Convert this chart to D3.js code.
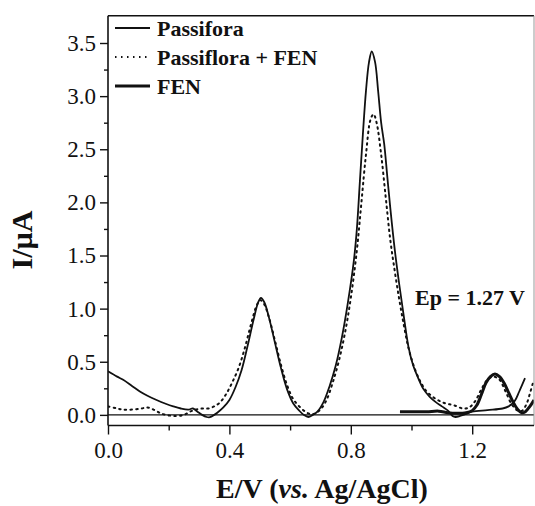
<!DOCTYPE html>
<html>
<head>
<meta charset="utf-8">
<script src="https://cdn.jsdelivr.net/npm/d3@7"></script>
<style>
  html, body { margin: 0; padding: 0; background: #fff; }
  svg { display: block; }
  text { font-family: "Liberation Serif", "Times New Roman", serif; fill: #111; }
</style>
</head>
<body>
<svg id="chart" width="535" height="506"></svg>
<script>
// Differential pulse voltammograms: potential (V vs Ag/AgCl) and current (µA)
const passiforaE = [0.00,0.03,0.05,0.08,0.105,0.13,0.16,0.19,0.215,0.24,0.265,0.28,0.295,0.31,0.325,0.336,0.35,0.36,0.38,0.40,0.42,0.44,0.46,0.48,0.495,0.504,0.515,0.53,0.55,0.57,0.59,0.61,0.63,0.645,0.66,0.675,0.69,0.71,0.73,0.75,0.77,0.79,0.81,0.82,0.83,0.84,0.85,0.86,0.869,0.88,0.89,0.90,0.91,0.92,0.93,0.945,0.96,0.975,0.99,1.005,1.02,1.04,1.06,1.08,1.10,1.12,1.135,1.145,1.16,1.18,1.20,1.25,1.30,1.32,1.34,1.355,1.374];
const passiforaI = [0.41,0.36,0.33,0.27,0.22,0.18,0.14,0.105,0.08,0.06,0.05,0.06,0.03,0.00,-0.02,-0.022,0.00,0.02,0.07,0.14,0.26,0.42,0.65,0.90,1.06,1.10,1.06,0.92,0.68,0.44,0.24,0.11,0.04,0.00,-0.02,0.00,0.03,0.12,0.27,0.46,0.72,1.05,1.45,1.75,2.20,2.65,3.05,3.32,3.42,3.32,3.05,2.75,2.55,2.25,1.95,1.55,1.22,0.92,0.64,0.47,0.36,0.24,0.17,0.12,0.08,0.04,-0.01,-0.02,-0.01,0.01,0.03,0.045,0.06,0.08,0.13,0.22,0.345];

const mixE = [0.00,0.03,0.05,0.08,0.11,0.13,0.15,0.17,0.19,0.22,0.25,0.27,0.29,0.31,0.33,0.35,0.37,0.39,0.41,0.43,0.45,0.47,0.49,0.502,0.515,0.53,0.55,0.57,0.59,0.61,0.63,0.65,0.665,0.68,0.70,0.72,0.74,0.76,0.78,0.80,0.82,0.835,0.85,0.865,0.875,0.885,0.90,0.915,0.93,0.945,0.96,0.975,0.99,1.01,1.03,1.05,1.08,1.11,1.14,1.17,1.19,1.21,1.23,1.25,1.27,1.29,1.31,1.33,1.35,1.365,1.38,1.39,1.401];
const mixI = [0.08,0.06,0.05,0.05,0.06,0.07,0.05,0.02,0.00,-0.01,0.00,0.03,0.05,0.06,0.06,0.08,0.12,0.20,0.31,0.44,0.62,0.84,1.03,1.08,1.04,0.92,0.70,0.47,0.28,0.15,0.08,0.03,0.01,0.01,0.05,0.14,0.30,0.50,0.76,1.10,1.55,2.00,2.45,2.78,2.83,2.75,2.45,2.05,1.65,1.35,1.08,0.84,0.63,0.44,0.31,0.22,0.15,0.11,0.09,0.06,0.07,0.13,0.24,0.33,0.36,0.33,0.22,0.10,0.04,0.04,0.11,0.20,0.31];

const fenE = [0.962,1.00,1.05,1.09,1.12,1.15,1.18,1.20,1.215,1.23,1.245,1.26,1.275,1.29,1.305,1.32,1.335,1.35,1.363,1.375,1.39,1.4036];
const fenI = [0.03,0.03,0.03,0.035,0.02,0.015,0.02,0.04,0.09,0.19,0.30,0.36,0.385,0.36,0.30,0.21,0.12,0.05,0.02,0.03,0.08,0.14];

const seriesNames = ["Passifora", "Passiflora + FEN", "FEN"];
const xMajorTicks = [0.0, 0.4, 0.8, 1.2];
const xMinorTicks = [0.2, 0.6, 1.0];
const yMajorTicks = [0.0, 0.5, 1.0, 1.5, 2.0, 2.5, 3.0, 3.5];
const yMinorTicks = [0.25, 0.75, 1.25, 1.75, 2.25, 2.75, 3.25];
const peakLabel = "Ep = 1.27 V";

const svg = d3.select("#chart");
const plotLeft = 108, plotRight = 534, plotTop = 15.7, plotBottom = 425.5;

const x = d3.scaleLinear().domain([0, 1.4036]).range([plotLeft, plotRight]);
const y = d3.scaleLinear().domain([-0.1, 3.757]).range([plotBottom, plotTop]);

const zip = (es, is) => es.map((e, k) => [e, is[k]]);
const line = d3.line().x(d => x(d[0])).y(d => y(d[1])).curve(d3.curveCatmullRom.alpha(0.5));

svg.append("clipPath").attr("id", "plot-clip")
  .append("rect").attr("x", plotLeft).attr("y", plotTop)
  .attr("width", plotRight - plotLeft).attr("height", plotBottom - plotTop);

const plot = svg.append("g").attr("clip-path", "url(#plot-clip)");

// zero-current baseline
plot.append("line")
  .attr("x1", plotLeft).attr("x2", plotRight).attr("y1", y(0)).attr("y2", y(0))
  .attr("stroke", "#111").attr("stroke-width", 1.4);

const styles = [
  { data: zip(mixE, mixI), width: 2, dash: "1.5,4.2", cap: "round" },
  { data: zip(passiforaE, passiforaI), width: 1.8, dash: null, cap: "butt" },
  { data: zip(fenE, fenI), width: 3, dash: null, cap: "butt" }
];
styles.forEach(s => {
  plot.append("path").datum(s.data)
    .attr("d", line)
    .attr("fill", "none")
    .attr("stroke", "#111")
    .attr("stroke-width", s.width)
    .attr("stroke-linecap", s.cap)
    .attr("stroke-linejoin", "round")
    .attr("stroke-dasharray", s.dash);
});

// frame: top and right edges
svg.append("line").attr("x1", plotLeft).attr("x2", plotRight).attr("y1", plotTop).attr("y2", plotTop)
  .attr("stroke", "#111").attr("stroke-width", 1.6);
svg.append("line").attr("x1", plotRight).attr("x2", plotRight).attr("y1", plotTop).attr("y2", plotBottom)
  .attr("stroke", "#999").attr("stroke-width", 1);

// axes
const fmt = d3.format(".1f");
const yAxis = svg.append("g").attr("transform", `translate(${plotLeft},0)`)
  .call(d3.axisLeft(y).tickValues(yMajorTicks).tickFormat(fmt).tickSize(8).tickPadding(4));
const yMinor = svg.append("g").attr("transform", `translate(${plotLeft},0)`)
  .call(d3.axisLeft(y).tickValues(yMinorTicks).tickFormat("").tickSize(4));
const xAxis = svg.append("g").attr("transform", `translate(0,${plotBottom})`)
  .call(d3.axisBottom(x).tickValues(xMajorTicks).tickFormat(fmt).tickSize(9).tickPadding(7));
const xMinor = svg.append("g").attr("transform", `translate(0,${plotBottom})`)
  .call(d3.axisBottom(x).tickValues(xMinorTicks).tickFormat("").tickSize(5));

[yAxis, yMinor, xAxis, xMinor].forEach(g => {
  g.attr("font-family", null);
  g.select(".domain").attr("stroke", "#111").attr("stroke-width", 1.6);
  g.selectAll(".tick line").attr("stroke", "#111").attr("stroke-width", 1.4);
  g.selectAll(".tick text")
    .style("font-family", '"Liberation Serif", "Times New Roman", serif')
    .style("font-size", "23px").attr("fill", "#111");
});
yAxis.select(".domain").attr("d", `M0,${plotTop}V${plotBottom}`);
xAxis.select(".domain").attr("d", `M${plotLeft},0H${plotRight}`);
yMinor.select(".domain").remove();
xMinor.select(".domain").remove();

// axis titles
const xTitle = svg.append("text")
  .attr("x", 322).attr("y", 498)
  .attr("text-anchor", "middle")
  .style("font-size", "28px").style("font-weight", "bold");
xTitle.append("tspan").text("E/V (");
xTitle.append("tspan").style("font-style", "italic").text("vs.");
xTitle.append("tspan").text(" Ag/AgCl)");

svg.append("text")
  .attr("transform", "translate(32,240) rotate(-90)")
  .attr("text-anchor", "middle")
  .style("font-size", "30px").style("font-weight", "bold")
  .text("I/µA");

// legend
const legend = svg.append("g");
const legendY = [28, 57, 86];
const legendStyles = [
  { width: 1.8, dash: null },
  { width: 1.8, dash: "1.5,4.5" },
  { width: 3, dash: null }
];
seriesNames.forEach((name, k) => {
  legend.append("line")
    .attr("x1", 115).attr("x2", 150).attr("y1", legendY[k]).attr("y2", legendY[k])
    .attr("stroke", "#111").attr("stroke-width", legendStyles[k].width)
    .attr("stroke-dasharray", legendStyles[k].dash);
  legend.append("text")
    .attr("x", 157).attr("y", legendY[k]).attr("dy", "0.35em")
    .style("font-size", "22px").style("font-weight", "bold")
    .text(name);
});

// peak potential annotation
svg.append("text")
  .attr("x", 415).attr("y", 305)
  .style("font-size", "22px").style("font-weight", "bold")
  .text(peakLabel);
</script>
</body>
</html>
